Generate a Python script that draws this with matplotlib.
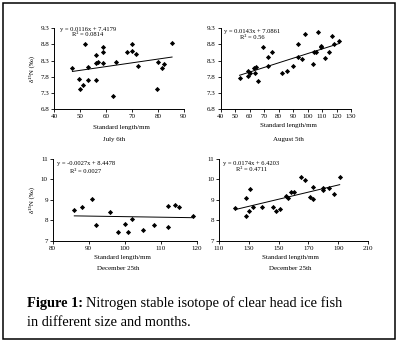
import numpy as np
import matplotlib
matplotlib.use("Agg")
import matplotlib.pyplot as plt
from matplotlib.patches import Rectangle

plt.rcParams['font.family'] = ['Liberation Serif', 'DejaVu Serif']

# July 6th
jul_x = [47, 49.5, 50, 51, 52, 53, 53, 56, 56, 56, 57, 59, 59, 59, 62.5, 64,
         68, 70, 70, 71.5, 72.5, 80, 79.5, 81.5, 82.5, 85.5]
jul_y = [8.06, 7.73, 7.42, 7.53, 8.81, 8.11, 7.69, 8.46, 8.22, 7.70, 8.25, 8.71,
         8.56, 8.24, 7.20, 8.27, 8.56, 8.81, 8.60, 8.50, 8.14, 8.27, 7.42, 8.08,
         8.20, 8.84]
jul_fit = (0.0116, 7.4179, "0.0814")

# August 5th
aug_x = [53, 59, 59, 60, 63, 64, 64.5, 65.5, 69.5, 72.5, 72.5, 75.5, 82, 85.5,
         90, 93.5, 93.5, 96, 98, 104, 104.5, 106, 107, 109, 109.5, 112, 114.5,
         117, 118.5, 122]
aug_y = [7.76, 7.82, 7.98, 7.93, 8.07, 7.91, 8.11, 7.67, 8.72, 8.42, 8.13, 8.57,
         7.92, 7.98, 8.14, 8.82, 8.40, 8.35, 9.12, 8.18, 8.56, 8.58, 9.18, 8.71,
         8.74, 8.37, 8.56, 9.05, 8.81, 8.92]
aug_fit = (0.0143, 7.0861, "0.56")

# December 25th (left)
dec1_x = [86, 88, 91, 92, 96, 98, 100, 101, 102, 105, 108, 112, 112, 114, 115, 119]
dec1_y = [8.50, 8.63, 9.04, 7.78, 8.40, 7.44, 7.82, 7.41, 8.04, 7.52, 7.78, 8.70,
          7.69, 8.75, 8.65, 8.21]
dec1_fit = (-0.0027, 8.4478, "0.0027")

# December 25th (right)
dec2_x = [121, 128, 128, 130, 131, 133, 139, 146, 148, 151, 155, 156, 158, 160,
          165, 168, 171, 173, 173, 180, 180, 184, 187, 191]
dec2_y = [8.61, 9.08, 8.22, 8.46, 9.51, 8.63, 8.63, 8.63, 8.44, 8.54, 9.19, 9.08,
          9.39, 9.36, 10.14, 9.97, 9.14, 9.02, 9.64, 9.47, 9.59, 9.59, 9.27, 10.1]
dec2_fit = (0.0174, 6.4203, "0.4711")

W, H = 402, 346
fig = plt.figure(figsize=(W / 100, H / 100), dpi=100)


def px_axes(x0, x1, ytop, ybot):
    return fig.add_axes([x0 / W, 1 - ybot / H, (x1 - x0) / W, (ybot - ytop) / H])


panels = [
    dict(box=(54.3, 183.7, 28.3, 109), x=jul_x, y=jul_y, fit=jul_fit,
         xlim=(40, 90), xt=np.arange(40, 91, 10), ylim=(6.8, 9.3), yt=np.arange(6.8, 9.31, 0.5),
         fmt="%.1f", ylab=True, eq=(0.26, 0.99, 0.925), lab=(121, 128, 114, 139, "July 6th")),
    dict(box=(220.7, 351, 28.3, 109), x=aug_x, y=aug_y, fit=aug_fit,
         xlim=(40, 130), xt=np.arange(40, 131, 10), ylim=(6.8, 9.3), yt=np.arange(6.8, 9.31, 0.5),
         fmt="%.1f", ylab=False, eq=(0.244, 0.966, 0.89), lab=(288, 126, 288, 139, "August 5th")),
    dict(box=(52.7, 196.7, 159, 240.7), x=dec1_x, y=dec1_y, fit=dec1_fit,
         xlim=(80, 120), xt=np.arange(80, 121, 10), ylim=(7, 11), yt=np.arange(7, 12, 1),
         fmt="%d", ylab=True, eq=(0.23, 0.94, 0.853), lab=(122, 258, 118, 268, "December 25th")),
    dict(box=(219, 368, 159, 240.7), x=dec2_x, y=dec2_y, fit=dec2_fit,
         xlim=(110, 210), xt=np.arange(110, 211, 20), ylim=(7, 11), yt=np.arange(7, 12, 1),
         fmt="%d", ylab=False, eq=(0.218, 0.94, 0.877), lab=(290, 258, 290, 268, "December 25th")),
]

for p in panels:
    ax = px_axes(*p["box"])
    ax.scatter(p["x"], p["y"], marker="D", s=7, color="black", linewidths=0, zorder=3)
    a, b, r2 = p["fit"]
    xx = np.array([min(p["x"]), max(p["x"])])
    ax.plot(xx, a * xx + b, color="black", lw=0.7)
    ax.set_xlim(*p["xlim"])
    ax.set_ylim(*p["ylim"])
    ax.set_xticks(p["xt"])
    ax.set_yticks(p["yt"])
    ax.set_yticklabels([p["fmt"] % v for v in p["yt"]])
    ax.tick_params(labelsize=5, length=2, width=0.6, pad=1.5, direction="out")
    for s in ["top", "right"]:
        ax.spines[s].set_visible(False)
    for s in ["left", "bottom"]:
        ax.spines[s].set_linewidth(0.7)
    ax.set_facecolor("none")
    sign = "-" if a < 0 else ""
    ax.text(p["eq"][0], p["eq"][1], "y = %s%.4fx + %.4f" % (sign, abs(a), b),
            transform=ax.transAxes, ha="center", va="center", fontsize=4.7)
    ax.text(p["eq"][0], p["eq"][2], "R² = " + r2,
            transform=ax.transAxes, ha="center", va="center", fontsize=4.7)
    if p["ylab"]:
        ax.set_ylabel("δ¹⁵N (‰)", fontsize=5, labelpad=4)
    lx, ly, dx, dy, dlab = p["lab"]
    fig.text(lx / W, 1 - ly / H, "Standard length/mm", ha="center", va="center", fontsize=5)
    fig.text(dx / W, 1 - dy / H, dlab, ha="center", va="center", fontsize=5)

# outer frame
fig.patches.append(Rectangle((3 / W, 1 - 339 / H), 392 / W, 336 / H, transform=fig.transFigure,
                             fill=False, edgecolor="black", lw=1.1))

# caption
t1 = fig.text(27 / W, 1 - 303 / H, "Figure 1:", fontsize=10.4, fontweight="bold", va="center")
fig.canvas.draw()
bb = t1.get_window_extent()
fig.text(bb.x1 / W + 3 / W, 1 - 303 / H, "Nitrogen stable isotope of clear head ice fish",
         fontsize=10.4, va="center")
fig.text(27 / W, 1 - 322 / H, "in different size and months.", fontsize=10.4, va="center")

fig.savefig("out.png", dpi=100)
